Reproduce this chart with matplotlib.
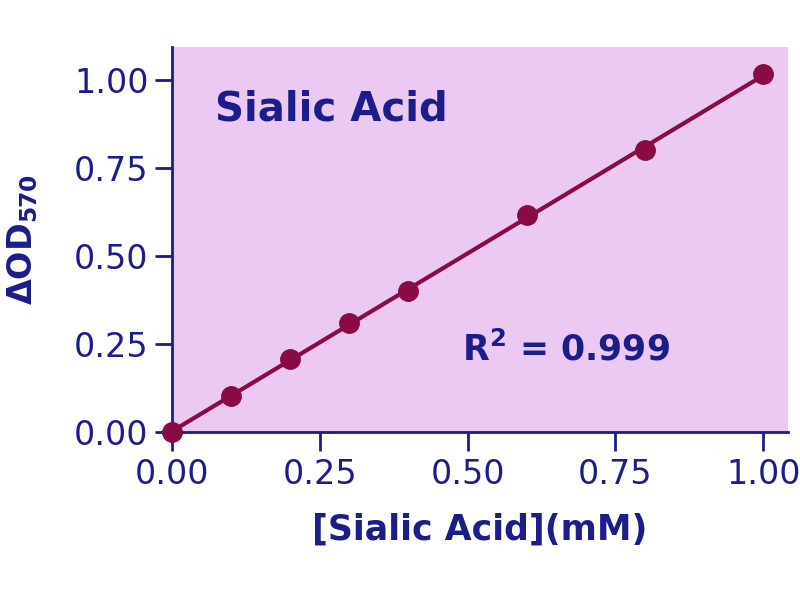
import numpy as np
import matplotlib
matplotlib.use("Agg")
import matplotlib.pyplot as plt

conc = [0.0, 0.1, 0.2, 0.3, 0.4, 0.6, 0.8, 1.0]
od = [0.0, 0.102, 0.207, 0.31, 0.40, 0.617, 0.80, 1.017]
xticks = [0.0, 0.25, 0.5, 0.75, 1.0]
yticks = [0.0, 0.25, 0.5, 0.75, 1.0]

navy = "#1c1c8a"
maroon = "#8a0a45"
bg = "#ebc9f2"

plt.rcParams['font.family'] = ['DejaVu Sans']
plt.rcParams['mathtext.fontset'] = 'dejavusans'
fig = plt.figure(figsize=(8, 6), dpi=100)
ax = fig.add_axes([172/800, 1-432/600, (788-172)/800, (432-47)/600])
ax.set_facecolor(bg)
ax.set_xlim(0, 1.042)
ax.set_ylim(0, 1.094)

slope, intercept = np.polyfit(conc, od, 1)
xf = np.array([0.0, 1.0])
ax.plot(xf, slope*xf + intercept, color=maroon, lw=3, clip_on=False, zorder=3)
ax.plot(conc, od, 'o', color=maroon, ms=14, clip_on=False, zorder=4)

for s in ['top', 'right']:
    ax.spines[s].set_visible(False)
for s in ['left', 'bottom']:
    ax.spines[s].set_color(navy)
    ax.spines[s].set_linewidth(2)

ax.set_xticks(xticks)
ax.set_yticks(yticks)
ax.set_xticklabels([f"{v:.2f}" for v in xticks])
ax.set_yticklabels([f"{v:.2f}" for v in yticks])
ax.tick_params(direction='out', length=12, width=2, color=navy, labelcolor=navy,
               labelsize=24, pad=5)
ax.tick_params(axis='x', length=14)

ax.set_xlabel("[Sialic Acid](mM)", fontsize=25, fontweight='bold', color=navy)
ax.xaxis.set_label_coords(0.5, -0.21)
ax.set_ylabel(r"$\mathbf{\Delta OD_{570}}$", fontsize=24, color=navy)
ax.yaxis.set_label_coords(-0.215, 0.5)

ax.text(0.07, 0.81, "Sialic Acid", transform=ax.transAxes, fontsize=29,
        fontweight='bold', color=navy, ha='left', va='baseline')
ax.text(0.471, 0.187, r"R$^\mathbf{2}$ = 0.999", transform=ax.transAxes, fontsize=25,
        fontweight='bold', color=navy, ha='left', va='baseline')

fig.savefig("out.png", dpi=100, facecolor='white')
